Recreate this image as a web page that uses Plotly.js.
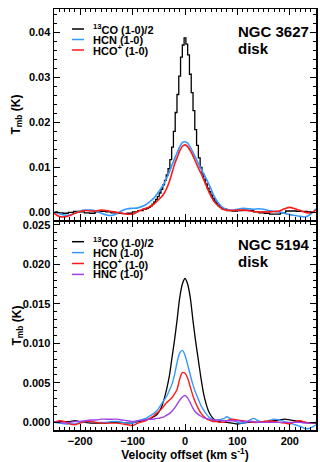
<!DOCTYPE html>
<html>
<head>
<meta charset="utf-8">
<script src="https://cdn.plot.ly/plotly-3.0.1.min.js"></script>
<style>
  html, body { margin: 0; padding: 0; background: #fff; }
  #chart { width: 320px; height: 462px; }
</style>
</head>
<body>
<div id="chart"></div>
<script>
// velocity grid (km/s) for the smooth spectra
let velocity = [
    -250, -240, -230, -220, -210, -200, -190, -180, -170, -160, -150, -140, -130, -120, -110, -100, -90, -80,
    -75, -70, -65, -60, -55, -50, -45, -40, -35, -30, -25, -20, -15, -10, -5, 0,
    5, 10, 15, 20, 25, 30, 35, 40, 45, 50, 55, 60, 65, 70, 75,
    80, 90, 100, 110, 120, 130, 140, 150, 160, 170, 180, 190, 200, 210, 220, 230, 240, 250
];

// channel velocities (km/s) of the 13CO histogram in NGC 3627
let velocityCO = [
    -248.2, -238, -227.8, -217.6, -207.4, -197.2, -187, -176.8, -166.6, -156.4, -146.2, -136, -125.8, -115.6, -105.4, -95.2, -85, -74.8,
    -71.4, -68, -64.6, -61.2, -57.8, -54.4, -51, -47.6, -44.2, -40.8, -37.4, -34, -30.6, -27.2, -23.8, -20.4, -17, -13.6, -10.2, -6.8, -3.4, 0,
    3.4, 6.8, 10.2, 13.6, 17, 20.4, 23.8, 27.2, 30.6, 34, 37.4, 40.8, 44.2, 47.6, 51, 54.4, 57.8, 61.2, 64.6, 68, 71.4,
    74.8, 85, 95.2, 105.4, 115.6, 125.8, 136, 146.2, 156.4, 166.6, 176.8, 187, 197.2, 207.4, 217.6, 227.8, 238, 248.2
];

// NGC 3627 disk
let co13_3627 = [
    0.0001, -0.0001, -0.0002, 0.0000, 0.0002, 0.0001, -0.0001, -0.0002, 0.0001, 0.0002, 0.0001, -0.0001, -0.0002, -0.0003, -0.0002, 0.0001, 0.0004, 0.0007,
    0.0009, 0.0011, 0.0014, 0.0018, 0.0023, 0.0029, 0.0035, 0.0043, 0.0051, 0.0061, 0.0071, 0.0083, 0.0097, 0.0117, 0.0145, 0.0180, 0.0222, 0.0262, 0.0303, 0.0345, 0.0372, 0.0388,
    0.0374, 0.0350, 0.0307, 0.0266, 0.0226, 0.0184, 0.0149, 0.0121, 0.0100, 0.0085, 0.0073, 0.0063, 0.0054, 0.0046, 0.0038, 0.0031, 0.0025, 0.0020, 0.0015, 0.0011, 0.0008,
    0.0007, 0.0004, 0.0003, 0.0004, 0.0005, 0.0004, 0.0001, -0.0001, -0.0002, -0.0004, -0.0004, -0.0001, 0.0003, 0.0003, 0.0002, 0.0002, 0.0001, 0.0000
];
let hcn_3627 = [
    0.0001, -0.0003, -0.0006, -0.0006, -0.0002, 0.0003, 0.0005, 0.0005, 0.0003, -0.0002, -0.0006, -0.0007, -0.0003, 0.0004, 0.0008, 0.0009, 0.0010, 0.0014,
    0.0017, 0.0021, 0.0026, 0.0031, 0.0038, 0.0046, 0.0055, 0.0064, 0.0076, 0.0089, 0.0105, 0.0119, 0.0133, 0.0146, 0.0155, 0.0157,
    0.0154, 0.0145, 0.0134, 0.0122, 0.0110, 0.0098, 0.0087, 0.0076, 0.0064, 0.0051, 0.0037, 0.0027, 0.0019, 0.0013, 0.0009,
    0.0006, 0.0005, 0.0007, 0.0009, 0.0008, 0.0007, 0.0008, 0.0007, 0.0004, 0.0002, 0.0001, -0.0002, -0.0005, -0.0007, -0.0009, -0.0010, -0.0004, 0.0008
];
let hcop_3627 = [
    -0.0002, -0.0009, -0.0010, -0.0007, -0.0002, 0.0002, 0.0004, 0.0003, 0.0003, 0.0005, 0.0004, 0.0002, 0.0000, -0.0002, -0.0004, -0.0004, 0.0002, 0.0007,
    0.0009, 0.0011, 0.0014, 0.0018, 0.0023, 0.0029, 0.0034, 0.0042, 0.0053, 0.0068, 0.0087, 0.0107, 0.0122, 0.0137, 0.0147, 0.0150,
    0.0146, 0.0137, 0.0126, 0.0113, 0.0100, 0.0088, 0.0075, 0.0061, 0.0047, 0.0035, 0.0025, 0.0018, 0.0013, 0.0009, 0.0006,
    0.0005, 0.0004, 0.0005, 0.0005, 0.0004, 0.0002, 0.0001, 0.0001, 0.0001, 0.0002, 0.0003, 0.0008, 0.0011, 0.0008, 0.0004, 0.0000, -0.0001, 0.0005
];

// NGC 5194 disk
let co13_5194 = [
    0.0000, 0.0001, 0.0001, 0.0001, 0.0002, 0.0001, 0.0000, -0.0001, -0.0001, -0.0001, -0.0001, 0.0000, 0.0000, 0.0000, -0.0001, -0.0001, 0.0001, 0.0002,
    0.0003, 0.0004, 0.0005, 0.0007, 0.0009, 0.0013, 0.0019, 0.0029, 0.0042, 0.0058, 0.0081, 0.0104, 0.0130, 0.0158, 0.0175, 0.0182,
    0.0175, 0.0158, 0.0130, 0.0104, 0.0081, 0.0058, 0.0038, 0.0024, 0.0014, 0.0008, 0.0004, 0.0002, 0.0001, 0.0000, 0.0000,
    0.0000, -0.0001, -0.0002, -0.0001, 0.0000, 0.0000, 0.0000, 0.0001, 0.0001, 0.0002, 0.0003, 0.0004, 0.0003, 0.0002, 0.0001, 0.0000, -0.0001, -0.0001
];
let hcn_5194 = [
    0.0000, -0.0001, -0.0002, -0.0002, -0.0002, 0.0000, 0.0001, 0.0001, 0.0000, 0.0000, 0.0000, 0.0001, 0.0001, 0.0000, -0.0001, -0.0001, 0.0002, 0.0004,
    0.0005, 0.0007, 0.0009, 0.0011, 0.0014, 0.0018, 0.0023, 0.0028, 0.0033, 0.0040, 0.0048, 0.0060, 0.0076, 0.0088, 0.0091, 0.0085,
    0.0073, 0.0060, 0.0048, 0.0038, 0.0030, 0.0022, 0.0016, 0.0011, 0.0007, 0.0004, 0.0002, 0.0002, 0.0003, 0.0004, 0.0005,
    0.0007, 0.0003, 0.0000, -0.0001, 0.0001, 0.0005, 0.0002, 0.0000, 0.0002, 0.0004, 0.0003, 0.0001, -0.0001, -0.0003, -0.0005, -0.0008, -0.0007, -0.0003
];
let hcop_5194 = [
    0.0000, 0.0002, 0.0001, -0.0002, -0.0003, -0.0001, 0.0001, 0.0001, 0.0000, -0.0001, -0.0001, -0.0001, -0.0001, -0.0002, -0.0003, -0.0004, -0.0001, 0.0001,
    0.0002, 0.0004, 0.0006, 0.0008, 0.0011, 0.0014, 0.0017, 0.0021, 0.0025, 0.0028, 0.0031, 0.0036, 0.0042, 0.0055, 0.0063, 0.0062,
    0.0056, 0.0045, 0.0034, 0.0025, 0.0018, 0.0012, 0.0008, 0.0005, 0.0003, 0.0002, 0.0001, 0.0001, 0.0000, 0.0000, 0.0000,
    0.0002, 0.0004, 0.0003, 0.0002, 0.0001, 0.0000, 0.0000, 0.0001, 0.0002, 0.0001, 0.0000, -0.0001, -0.0002, 0.0001, 0.0002, 0.0000, -0.0001, 0.0000
];
let hnc_5194 = [
    0.0000, 0.0000, -0.0001, 0.0000, 0.0001, 0.0001, 0.0002, 0.0003, 0.0003, 0.0004, 0.0004, 0.0004, 0.0004, 0.0003, 0.0002, 0.0001, 0.0002, 0.0003,
    0.0003, 0.0004, 0.0004, 0.0004, 0.0005, 0.0005, 0.0006, 0.0007, 0.0009, 0.0011, 0.0014, 0.0018, 0.0023, 0.0028, 0.0032, 0.0034,
    0.0031, 0.0025, 0.0018, 0.0013, 0.0010, 0.0008, 0.0006, 0.0005, 0.0004, 0.0004, 0.0003, 0.0003, 0.0003, 0.0002, 0.0002,
    0.0002, 0.0002, 0.0002, 0.0001, 0.0001, 0.0001, 0.0000, 0.0000, 0.0000, 0.0000, 0.0000, 0.0000, 0.0000, 0.0000, 0.0000, -0.0001, -0.0001, 0.0000
];

let labelsTop = ['<sup>13</sup>CO (1-0)/2', 'HCN (1-0)', 'HCO<sup>+</sup> (1-0)'];
let labelsBottom = ['<sup>13</sup>CO (1-0)/2', 'HCN (1-0)', 'HCO<sup>+</sup> (1-0)', 'HNC (1-0)'];
let colors = ['#000000', '#3399ff', '#ff1a1a', '#a040e8'];

// plot box in pixels: left 54, right 316, top 9, bottom 430
let px2x = px => (px - 54) / 262;
let py2y = py => (430 - py) / 421;

let font = 'Liberation Sans, Arial, Helvetica, sans-serif';

let data = [
    { x: velocityCO, y: co13_3627, xaxis: 'x2', yaxis: 'y2', type: 'scatter', mode: 'lines',
      line: { color: colors[0], width: 1.3, shape: 'hvh' } },
    { x: velocity, y: hcn_3627, xaxis: 'x2', yaxis: 'y2', type: 'scatter', mode: 'lines',
      line: { color: colors[1], width: 1.6, shape: 'spline', smoothing: 0.8 } },
    { x: velocity, y: hcop_3627, xaxis: 'x2', yaxis: 'y2', type: 'scatter', mode: 'lines',
      line: { color: colors[2], width: 1.6, shape: 'spline', smoothing: 0.8 } },
    { x: velocity, y: co13_5194, type: 'scatter', mode: 'lines',
      line: { color: colors[0], width: 1.3, shape: 'spline', smoothing: 0.8 } },
    { x: velocity, y: hcn_5194, type: 'scatter', mode: 'lines',
      line: { color: colors[1], width: 1.4, shape: 'spline', smoothing: 0.8 } },
    { x: velocity, y: hcop_5194, type: 'scatter', mode: 'lines',
      line: { color: colors[2], width: 1.4, shape: 'spline', smoothing: 0.8 } },
    { x: velocity, y: hnc_5194, type: 'scatter', mode: 'lines',
      line: { color: colors[3], width: 1.4, shape: 'spline', smoothing: 0.8 } }
];

let axisCommon = {
    showgrid: false,
    zeroline: false,
    showline: true,
    linecolor: '#000',
    linewidth: 1.5,
    mirror: 'allticks',
    ticks: 'inside',
    ticklen: 6,
    tickwidth: 1,
    tickcolor: '#000',
    tickfont: { family: font, size: 11, color: '#000', weight: 'bold' }
};

let annotations = [];
let shapes = [];

// panel labels
function addLabel(text, py) {
    annotations.push({ text: text, x: px2x(237), y: py2y(py), xref: 'paper', yref: 'paper', xanchor: 'left', yanchor: 'middle',
        showarrow: false, borderpad: 0, font: { family: font, size: 15, color: '#000', weight: 'bold' } });
}
addLabel('NGC 3627', 32);
addLabel('disk', 49);
addLabel('NGC 5194', 244);
addLabel('disk', 261);

// y titles
[114.5, 325.5].forEach(cy => {
    annotations.push({ text: 'T<sub>mb</sub> (K)', x: px2x(17), y: py2y(cy), xref: 'paper', yref: 'paper', xanchor: 'center', yanchor: 'middle',
        textangle: -90, showarrow: false, borderpad: 0, font: { family: font, size: 12, color: '#000', weight: 'bold' } });
});

// hand-made legends (short line keys, tight rows)
function addLegend(labels, rowTop, rowGap) {
    labels.forEach((lab, i) => {
        let cy = rowTop + i * rowGap;
        shapes.push({ type: 'line', xref: 'paper', yref: 'paper', x0: px2x(72), x1: px2x(84), y0: py2y(cy), y1: py2y(cy),
            line: { color: colors[i], width: 1.5 } });
        annotations.push({ text: lab, x: px2x(92), y: py2y(cy), xref: 'paper', yref: 'paper', xanchor: 'left', yanchor: 'middle',
            showarrow: false, borderpad: 0, font: { family: font, size: 11, color: '#000', weight: 'bold' } });
    });
}
addLegend(labelsTop, 29, 10.5);
addLegend(labelsBottom, 241.7, 10.9);

let layout = {
    width: 320,
    height: 462,
    margin: { l: 54, r: 4, t: 9, b: 32 },
    paper_bgcolor: '#fff',
    plot_bgcolor: '#fff',
    showlegend: false,
    xaxis: Object.assign({}, axisCommon, {
        range: [-250, 250], anchor: 'y', tickvals: [-200, -100, 0, 100, 200],
        minor: { dtick: 10, ticklen: 3, ticks: 'inside', tickcolor: '#000' },
        title: { text: 'Velocity offset (km s<sup>-1</sup>)', standoff: 0, font: { family: font, size: 12, color: '#000', weight: 'bold' } }
    }),
    yaxis: Object.assign({}, axisCommon, {
        domain: [0, 0.4964], range: [-0.00097, 0.02547], anchor: 'x',
        dtick: 0.005, tick0: 0, tickformat: '.3f',
        minor: { dtick: 0.001, ticklen: 3, ticks: 'inside', tickcolor: '#000' }
    }),
    xaxis2: Object.assign({}, axisCommon, {
        range: [-250, 250], anchor: 'y2', matches: 'x', showticklabels: false, tickvals: [-200, -100, 0, 100, 200],
        minor: { dtick: 10, ticklen: 3, ticks: 'inside', tickcolor: '#000' }
    }),
    yaxis2: Object.assign({}, axisCommon, {
        domain: [0.4988, 1], range: [-0.0017, 0.0452], anchor: 'x2',
        dtick: 0.01, tick0: 0, tickformat: '.2f',
        minor: { dtick: 0.002, ticklen: 3, ticks: 'inside', tickcolor: '#000' }
    }),
    annotations: annotations,
    shapes: shapes
};

Plotly.newPlot('chart', data, layout, { displayModeBar: false, staticPlot: true });
</script>
</body>
</html>
